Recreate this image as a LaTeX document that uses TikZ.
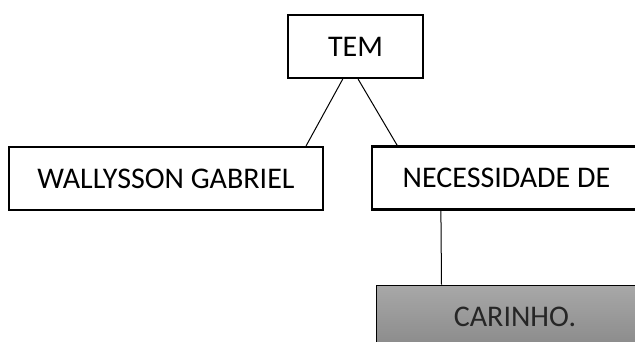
\documentclass[tikz,border=0pt]{standalone}
\usepackage{fontspec}
\setmainfont{Carlito}
\usetikzlibrary{calc}
\definecolor{cartop}{HTML}{A8A8A8}
\definecolor{carbot}{HTML}{8A8A8A}
\tikzset{
  box/.style={draw=black, line width=2.2pt, fill=white, inner sep=0pt,
    font=\fontsize{30}{34}\selectfont, text=black},
  shadebox/.style={draw=black, line width=1pt, inner sep=0pt,
    top color=cartop, bottom color=carbot,
    font=\fontsize{30}{34}\selectfont, text=black!85},
  link/.style={draw=black, line width=1pt}
}
\begin{document}
\begin{tikzpicture}[x=1pt,y=-1pt]
\useasboundingbox (0,0) rectangle (635,341);
\clip (0,0) rectangle (635,341);
\node[box, minimum width=135pt, minimum height=63pt] (tem) at (355.5,46.5) {TEM};
\node[box, minimum width=314pt, minimum height=63pt] (wal) at (166,178.5) {WALLYSSON GABRIEL};
\node[box, minimum width=269pt, minimum height=63pt] (nec) at (506.5,178) {NECESSIDADE DE};
\node[shadebox, minimum width=278pt, minimum height=63pt] (car) at (515,316.5) {CARINHO.};
\draw[link] ($(tem.south west)!0.407!(tem.south east)$) -- ($(wal.north west)!0.943!(wal.north east)$);
\draw[link] ($(tem.south west)!0.519!(tem.south east)$) -- ($(nec.north west)!0.097!(nec.north east)$);
\draw[link] ($(nec.south west)+(70,0)$) -- ($(car.north west)+(66,0)$);
\end{tikzpicture}
\end{document}
